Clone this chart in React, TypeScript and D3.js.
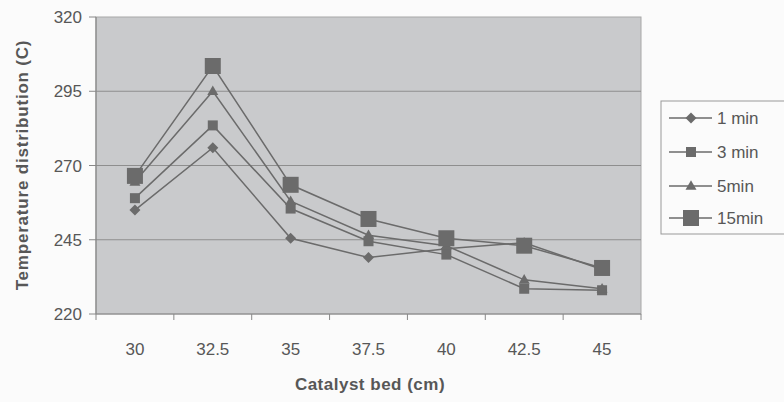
import React from "react";
import * as d3 from "d3";

const categories = ["30", "32.5", "35", "37.5", "40", "42.5", "45"];
const seriesNames = ["1 min", "3 min", "5min", "15min"];
const min1 = [255, 276, 245.5, 239, 242, 244, 235];
const min3 = [259, 283.5, 255.5, 244.5, 240, 228.5, 228];
const min5 = [264.5, 295, 258, 246.5, 243, 231.5, 228.5];
const min15 = [266.5, 303.5, 263.5, 252, 245.5, 243, 235.5];
const yTicks = [220, 245, 270, 295, 320];

type Shape = "diamond" | "square" | "triangle" | "bigsquare";
const seriesValues = [min1, min3, min5, min15];
const seriesShapes: Shape[] = ["diamond", "square", "triangle", "bigsquare"];

const W = 784;
const H = 402;
const plot = { left: 96, right: 641, top: 17, bottom: 314 };
const ink = "#6b6b6b";
const textColor = "#575757";
const font = "'Liberation Sans', Arial, sans-serif";

function Marker({ shape, x, y }: { shape: Shape; x: number; y: number }) {
  if (shape === "diamond") {
    const r = 5.5;
    return <path d={`M${x},${y - r}L${x + r},${y}L${x},${y + r}L${x - r},${y}Z`} fill={ink} />;
  }
  if (shape === "square") {
    return <rect x={x - 5} y={y - 5} width={10} height={10} fill={ink} />;
  }
  if (shape === "triangle") {
    const s = 11;
    const h = s * 0.87;
    return (
      <path
        d={`M${x},${y - h * 0.6}L${x + s / 2},${y + h * 0.4}L${x - s / 2},${y + h * 0.4}Z`}
        fill={ink}
      />
    );
  }
  return <rect x={x - 8} y={y - 8} width={16} height={16} fill={ink} />;
}

export default function App() {
  const x = d3
    .scaleBand<string>()
    .domain(categories)
    .range([plot.left, plot.right])
    .padding(0);
  const y = d3.scaleLinear().domain([220, 320]).range([plot.bottom, plot.top]);
  const cx = (c: string) => (x(c) as number) + x.bandwidth() / 2;
  const line = d3
    .line<number>()
    .x((_, i) => cx(categories[i]))
    .y((v) => y(v));

  const tickXs = categories.map((c) => x(c) as number).concat([plot.right]);

  const legend = { left: 661, top: 101, bottom: 234, rowY: [118, 152, 186, 218] };

  return (
    <svg
      width={W}
      height={H}
      style={{ position: "absolute", left: 0, top: 0, background: "#fbfbfb" }}
      fontFamily={font}
    >
      <rect x={0} y={0} width={W} height={H} fill="#fbfbfb" />
      {/* plot area */}
      <rect
        x={plot.left}
        y={plot.top}
        width={plot.right - plot.left}
        height={plot.bottom - plot.top}
        fill="#c9cacc"
        stroke="#a8a8a8"
        strokeWidth={1}
      />
      {yTicks.slice(1, -1).map((t) => (
        <line
          key={t}
          x1={plot.left}
          x2={plot.right}
          y1={y(t)}
          y2={y(t)}
          stroke="#8e8e8e"
          strokeWidth={1}
        />
      ))}
      {/* axes */}
      <line x1={plot.left} x2={plot.left} y1={plot.top} y2={plot.bottom} stroke="#888" strokeWidth={1.2} />
      <line x1={plot.left} x2={plot.right} y1={plot.bottom} y2={plot.bottom} stroke="#888" strokeWidth={1.2} />
      {yTicks.map((t) => (
        <g key={t}>
          <line x1={plot.left - 7} x2={plot.left} y1={y(t)} y2={y(t)} stroke="#888" />
          <text
            x={plot.left - 14}
            y={y(t)}
            dy="0.36em"
            textAnchor="end"
            fontSize={17}
            fill={textColor}
          >
            {t}
          </text>
        </g>
      ))}
      {tickXs.map((tx, i) => (
        <line key={i} x1={tx} x2={tx} y1={plot.bottom} y2={plot.bottom + 6} stroke="#888" />
      ))}
      {categories.map((c) => (
        <text key={c} x={cx(c)} y={349} dy="0.36em" textAnchor="middle" fontSize={17} fill={textColor}>
          {c}
        </text>
      ))}
      <text
        x={370}
        y={384}
        dy="0.36em"
        textAnchor="middle"
        fontSize={17}
        fontWeight="bold"
        letterSpacing={0.5}
        fill={textColor}
      >
        Catalyst bed (cm)
      </text>
      <text
        transform={`translate(22,165) rotate(-90)`}
        textAnchor="middle"
        dy="0.36em"
        fontSize={17}
        fontWeight="bold"
        letterSpacing={0.8}
        fill={textColor}
      >
        Temperature distribution (C)
      </text>
      {/* series */}
      {seriesValues.map((vals, si) => (
        <g key={si}>
          <path d={line(vals) as string} fill="none" stroke={ink} strokeWidth={1.5} />
          {vals.map((v, i) => (
            <Marker key={i} shape={seriesShapes[si]} x={cx(categories[i])} y={y(v)} />
          ))}
        </g>
      ))}
      {/* legend */}
      <rect
        x={legend.left}
        y={legend.top}
        width={W - legend.left + 10}
        height={legend.bottom - legend.top}
        fill="#fbfbfb"
        stroke="#999"
        strokeWidth={1}
      />
      {seriesNames.map((name, i) => (
        <g key={name}>
          <line x1={669} x2={712} y1={legend.rowY[i]} y2={legend.rowY[i]} stroke={ink} strokeWidth={1.5} />
          <Marker shape={seriesShapes[i]} x={691} y={legend.rowY[i]} />
          <text x={717} y={legend.rowY[i]} dy="0.36em" fontSize={17} fill={textColor}>
            {name}
          </text>
        </g>
      ))}
    </svg>
  );
}
